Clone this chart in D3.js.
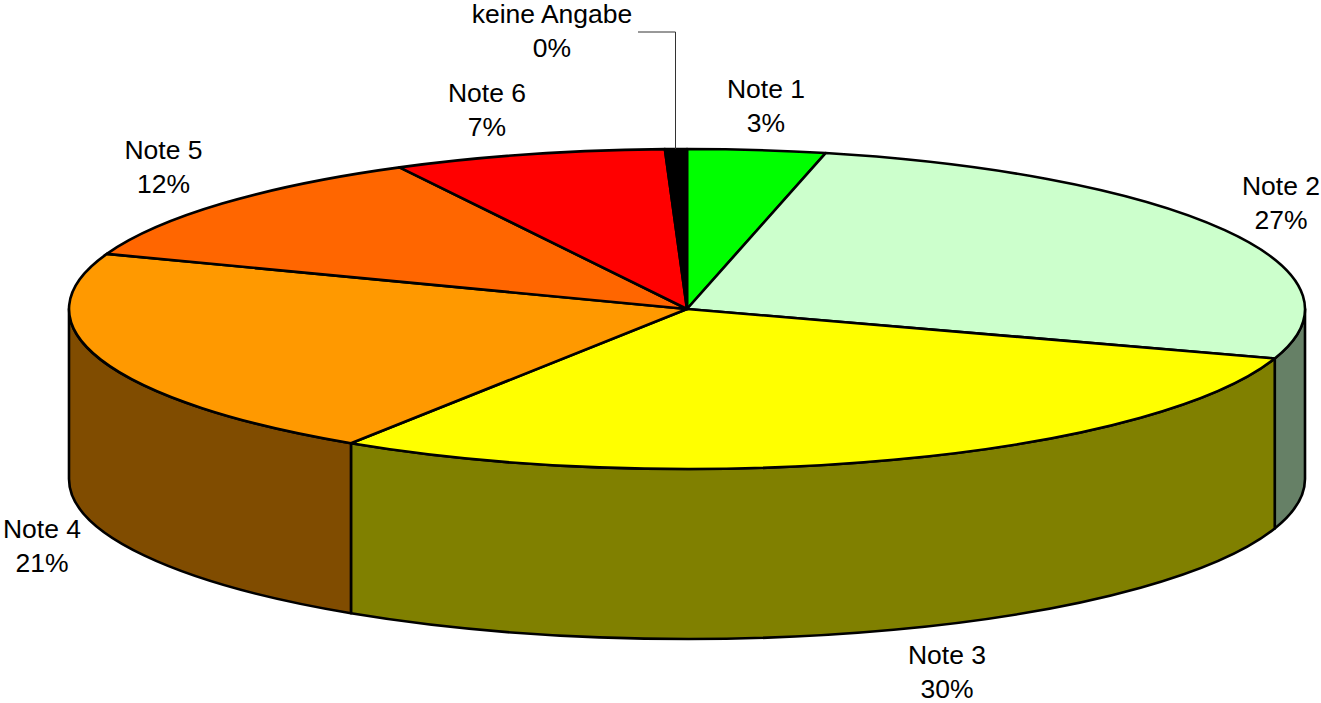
<!DOCTYPE html>
<html><head><meta charset="utf-8">
<script src="https://cdnjs.cloudflare.com/ajax/libs/d3/7.8.5/d3.min.js"></script>
<style>html,body{margin:0;padding:0;background:#fff}svg{display:block}text{font-family:"Liberation Sans",Arial,sans-serif;font-size:26.5px;fill:#000}</style>
</head><body><svg id="c" width="1321" height="703"></svg>
<script>
const categories=["Note 1","Note 2","Note 3","Note 4","Note 5","Note 6","keine Angabe"];
const shares=[3.6,26.4,29.15,21.45,11.7,7.13,0.57];
const percentLabels=["3%","27%","30%","21%","12%","7%","0%"];
const topColors=["#00ff00","#ccffcc","#ffff00","#ff9900","#ff6600","#ff0000","#000000"];
const sideColors=["#008000","#668066","#808000","#804c00","#803300","#800000","#000000"];
const labelAnchors=[[766,98],[1281,195],[947,664],[42,538],[163.5,159],[487,102],[552,23]];

const W=1321,H=703,cx=687,cy=309,rx=618,ry=160,depth=170;
const svg=d3.select("#c");
const pie=d3.pie().sort(null).value(d=>d)(shares);
const tx=d3.scaleLinear().domain([-1,1]).range([cx-rx,cx+rx]);
const ty=d3.scaleLinear().domain([-1,1]).range([cy-ry,cy+ry]);
const px=a=>tx(Math.sin(a)), py=a=>ty(-Math.cos(a));

// side wall: only the visible front half (angles PI/2 .. 3PI/2)
pie.forEach((p,i)=>{
  const a0=Math.max(p.startAngle,Math.PI/2),a1=Math.min(p.endAngle,3*Math.PI/2);
  if(a1<=a0)return;
  const d=`M${px(a0)},${py(a0)}A${rx},${ry} 0 0 1 ${px(a1)},${py(a1)}L${px(a1)},${py(a1)+depth}A${rx},${ry} 0 0 0 ${px(a0)},${py(a0)+depth}Z`;
  svg.append("path").attr("d",d).attr("fill",sideColors[i]).attr("stroke","#000").attr("stroke-width",2.6).attr("stroke-linejoin","round");
});

// top face
const arc=d3.arc().innerRadius(0).outerRadius(rx);
svg.append("g").attr("transform",`translate(${cx},${cy}) scale(1,${ry/rx})`)
  .selectAll("path").data(pie).join("path")
  .attr("d",arc).attr("fill",(d,i)=>topColors[i]).attr("stroke","#000").attr("stroke-width",2.6)
  .attr("stroke-linejoin","round").attr("vector-effect","non-scaling-stroke");

// leader line for keine Angabe
const lead=pie[6];const la=(lead.startAngle+lead.endAngle)/2;
svg.append("path").attr("d",`M638,32H675.5V${py(la)}`).attr("fill","none").attr("stroke","#333").attr("stroke-width",1);

// labels
categories.forEach((c,i)=>{
  const [x,y]=labelAnchors[i];
  const t=svg.append("text").attr("text-anchor","middle");
  t.append("tspan").attr("x",x).attr("y",y).text(c);
  t.append("tspan").attr("x",x).attr("y",y+34).text(percentLabels[i]);
});
</script></body></html>
